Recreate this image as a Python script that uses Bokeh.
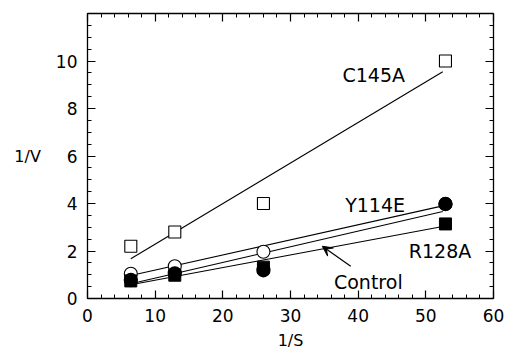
from bokeh.plotting import figure
from bokeh.models import LinearAxis, FixedTicker, Arrow, VeeHead, ColumnDataSource, Range1d, CustomJSTickFormatter
from bokeh.core.properties import value
from bokeh.embed import file_html
from bokeh.resources import INLINE

# ---- data ----
inv_s = [6.4, 12.9, 26.0, 52.9]
c145a = [2.2, 2.8, 4.0, 10.0]
control = [1.04, 1.36, 1.97, 3.98]
y114e = [0.78, 1.06, 1.19, 3.98]
r128a = [0.74, 0.98, 1.32, 3.14]

fit_x = [6.4, 52.5]
fit_c145a = [1.67, 9.55]
fit_y114e = [0.97, 3.90]
fit_control = [0.62, 3.66]
fit_r128a = [0.58, 3.03]

x_major = [0, 10, 20, 30, 40, 50, 60]
x_minor = [i * 2 for i in range(31)]
y_major = [0, 2, 4, 6, 8, 10]
y_minor = [i * 0.5 for i in range(25)]

labels = ["C145A", "Y114E", "R128A", "Control"]
label_x = [42.3, 42.5, 52.1, 41.5]
label_y = [9.4, 3.95, 1.99, 0.68]

arrow_start = (38.9, 1.36)
arrow_end = (34.7, 2.2)

FONT = "DejaVu Sans"

p = figure(width=510, height=352, x_range=Range1d(0, 60), y_range=Range1d(0, 12),
           output_backend="svg", toolbar_location=None,
           min_border_left=87, min_border_right=17, min_border_top=13, min_border_bottom=53)
p.grid.visible = False
p.outline_line_color = None
p.background_fill_color = "white"
p.border_fill_color = "white"


def style_axis(ax, ticks, minor, show_labels):
    ax.ticker = FixedTicker(ticks=ticks, minor_ticks=minor)
    ax.axis_line_color = "black"
    ax.axis_line_width = 1.3
    ax.major_tick_in = 8
    ax.major_tick_out = 0
    ax.minor_tick_in = 4
    ax.minor_tick_out = 0
    ax.major_tick_line_color = "black"
    ax.minor_tick_line_color = "black"
    ax.major_tick_line_width = 1.2
    ax.minor_tick_line_width = 1
    ax.major_label_text_font = FONT
    ax.major_label_text_font_size = "17px"
    ax.major_label_text_color = "black"
    if not show_labels:
        ax.formatter = CustomJSTickFormatter(code="return ''")
        ax.major_label_standoff = 0


style_axis(p.xaxis[0], x_major, x_minor, True)
style_axis(p.yaxis[0], y_major, y_minor, True)
p.xaxis[0].major_label_standoff = 10
p.yaxis[0].major_label_standoff = 10

for ax in (p.xaxis[0], p.yaxis[0]):
    ax.axis_label_text_font = FONT
    ax.axis_label_text_font_size = "16px"
    ax.axis_label_text_font_style = "normal"
    ax.axis_label_text_color = "black"

p.xaxis[0].axis_label = "1/S"
p.xaxis[0].axis_label_standoff = 6
p.yaxis[0].axis_label = "1/V"
p.yaxis[0].axis_label_orientation = "horizontal"
p.yaxis[0].axis_label_standoff = 12

top = LinearAxis()
style_axis(top, x_major, x_minor, False)
p.add_layout(top, "above")
right = LinearAxis()
style_axis(right, y_major, y_minor, False)
p.add_layout(right, "right")

# fitted lines
for fy in (fit_c145a, fit_y114e, fit_control, fit_r128a):
    p.line(fit_x, fy, line_color="black", line_width=1.1)

# markers
p.scatter(inv_s, c145a, marker="square", size=12, fill_color="white", line_color="black", line_width=1.1)
p.scatter(inv_s, control, marker="circle", size=13, fill_color="white", line_color="black", line_width=1.1)
p.scatter(inv_s, y114e, marker="circle", size=13, fill_color="black", line_color="black", line_width=1.3)
p.scatter(inv_s, r128a, marker="square", size=12, fill_color="black", line_color="black")

src = ColumnDataSource(dict(x=label_x, y=label_y, t=labels))
p.text("x", "y", text="t", source=src, text_align="center", text_baseline="middle",
       text_font=value(FONT), text_font_size="19px", text_color="black")

p.add_layout(Arrow(end=VeeHead(size=10, fill_color="black", line_color="black", line_width=1),
                   x_start=arrow_start[0], y_start=arrow_start[1],
                   x_end=arrow_end[0], y_end=arrow_end[1],
                   line_color="black", line_width=1.2))

open("out.html", "w").write(file_html(p, INLINE))
